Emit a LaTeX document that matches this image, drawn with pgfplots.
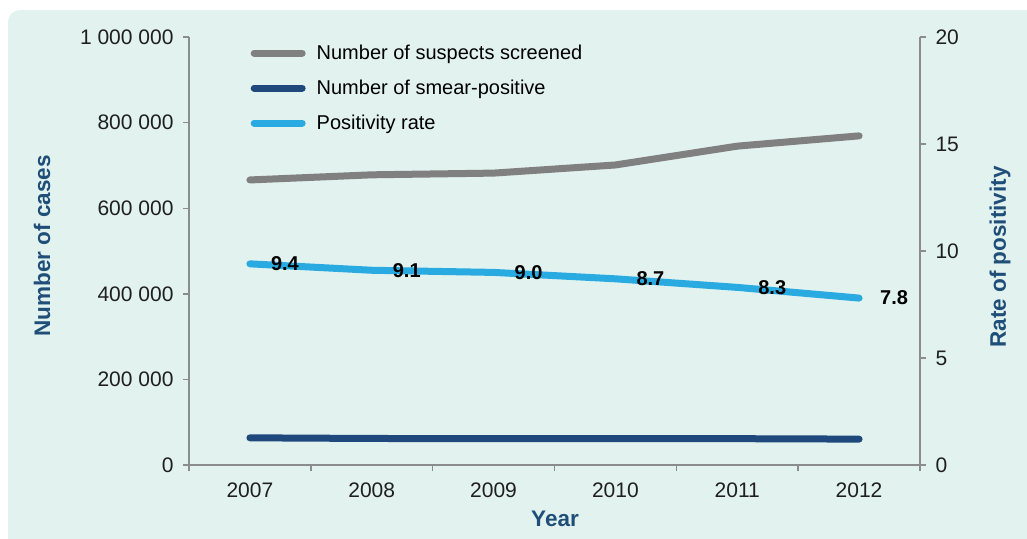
\documentclass[border=0pt]{standalone}
\usepackage{pgfplots}
\pgfplotsset{compat=1.18}
\usepackage{fontspec}
\setmainfont{Liberation Sans}
\definecolor{bg}{HTML}{E2F2EE}
\definecolor{grayline}{HTML}{808080}
\definecolor{darkblue}{HTML}{1F497D}
\definecolor{lightblue}{HTML}{29ABE2}
\definecolor{titleblue}{HTML}{1F4E79}
\definecolor{axisgray}{HTML}{8C8C8C}
\begin{document}
\begin{tikzpicture}[x=1pt,y=1pt]
\path[use as bounding box] (0pt,0pt) rectangle (1027pt,-538pt);
\fill[bg, rounded corners=12pt] (8pt,-10pt) rectangle (1060pt,-570pt);
\pgfplotsset{
  base/.style={
    at={(189pt,-465pt)}, anchor=south west, scale only axis,
    width=731pt, height=428pt,
    xmin=-0.5, xmax=5.5,
    tick align=outside, major tick length=6pt,
    tick style={axisgray, line width=1.4pt},
    axis line style={axisgray, line width=1.8pt},
    ticklabel style={font=\fontsize{21}{25}\selectfont, text=black!88},
    /pgf/number format/assume math mode=true,
    scaled y ticks=false,
  }
}
\begin{axis}[base,
  axis x line*=bottom, axis y line*=left,
  ymin=0, ymax=1000000,
  xtick={-0.5,0.5,...,5.5},
  xticklabels={2007,2008,2009,2010,2011,2012,{}},
  x tick label style={xshift=60.9pt, yshift=-8pt},
  ytick={0,200000,400000,600000,800000,1000000},
  yticklabels={{0},{200 000},{400 000},{600 000},{800 000},{1 000 000}},
  y tick label style={xshift=-6pt},
  legend style={at={(axis description cs:0.080,0.991)}, anchor=north west,
    draw=none, fill=none, font=\fontsize{20}{24}\selectfont,
    row sep=15pt, /tikz/every odd column/.append style={column sep=9pt}},
  legend cell align=left,
  legend image code/.code={\draw[#1, line cap=round] (0pt,0pt) -- (48pt,0pt);},
]
\addplot[grayline, line width=7pt, line cap=round, line join=round]
  coordinates {(0,666000)(1,678000)(2,682000)(3,701000)(4,745000)(5,769000)};
\addlegendentry{Number of suspects screened}
\addplot[darkblue, line width=7pt, line cap=round, line join=round]
  coordinates {(0,63500)(1,62000)(2,61500)(3,61500)(4,61500)(5,60500)};
\addlegendentry{Number of smear-positive}
\addlegendimage{lightblue, line width=7pt}
\addlegendentry{Positivity rate}
\end{axis}
\begin{axis}[base,
  axis x line=none, axis y line*=right,
  ymin=0, ymax=20,
  ytick={0,5,10,15,20},
  y tick label style={xshift=6pt},
]
\addplot[lightblue, line width=7pt, line cap=round, line join=round,
  nodes near coords, point meta=explicit symbolic,
  nodes near coords align={anchor=center},
  every node near coord/.append style={anchor=center, xshift=35pt,
    font=\fontsize{20}{24}\selectfont\bfseries, text=black}]
  coordinates {(0,9.4)[9.4] (1,9.1)[9.1] (2,9.0)[9.0] (3,8.7)[8.7] (4,8.3)[8.3] (5,7.8)[7.8]};
\end{axis}
\node[rotate=90, font=\fontsize{22.5}{26}\selectfont\bfseries, text=titleblue] at (42pt,-246pt) {Number of cases};
\node[rotate=90, font=\fontsize{22.5}{26}\selectfont\bfseries, text=titleblue] at (1000pt,-257pt) {Rate of positivity};
\node[font=\fontsize{22.5}{26}\selectfont\bfseries, text=titleblue] at (555pt,-519pt) {Year};
\end{tikzpicture}
\end{document}
